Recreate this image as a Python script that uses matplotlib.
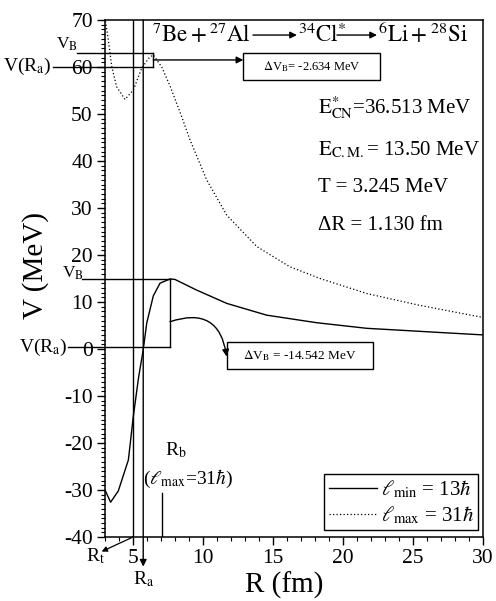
import matplotlib
matplotlib.use("Agg")
import matplotlib.pyplot as plt
from matplotlib.patches import Rectangle
from matplotlib.ticker import MultipleLocator
import numpy as np

plt.rcParams['font.family'] = ['Liberation Serif', 'DejaVu Serif']
plt.rcParams['mathtext.fontset'] = 'stix'
plt.rcParams['axes.unicode_minus'] = False

# potential for l_min = 13 hbar (solid)
r_min = [3.0, 3.4, 3.95, 4.67, 5.02, 5.4, 5.73, 5.98, 6.45, 6.93, 7.64, 8.0,
         9.5, 11.7, 14.55, 18.1, 21.7, 24.07, 27.0, 30.0]
v_min = [-30.0, -32.6, -30.2, -23.6, -14.4, -6.0, -0.2, 5.5, 11.3, 14.0, 14.9, 14.8,
         12.6, 9.7, 7.2, 5.6, 4.4, 4.0, 3.5, 3.0]

# potential for l_max = 31 hbar (dotted)
r_max = [3.0, 3.24, 3.48, 3.83, 4.43, 5.02, 5.62, 6.1, 6.45, 7.05, 7.64, 8.47,
         9.07, 10.26, 11.69, 13.84, 16.2, 18.36, 21.7, 25.3, 30.0]
v_max = [70.5, 65.7, 60.1, 55.8, 53.1, 55.1, 59.7, 61.8, 62.6, 60.0, 56.0, 49.5,
         44.5, 36.0, 28.5, 21.8, 17.5, 15.0, 11.8, 9.4, 6.7]

# characteristic radii and barrier levels
R_t, R_a, R_b = 5.0, 5.73, 7.09
vb_min, vra_min, rb_min = 14.9, 0.4, 7.64
vb_max, vra_max, rb_max = 62.9, 60.07, 6.45

xticks = [5, 10, 15, 20, 25, 30]
yticks = [-40, -30, -20, -10, 0, 10, 20, 30, 40, 50, 60, 70]

info_lines = [r"$\mathrm{E}^{*}_{\mathrm{CN}}$=36.513 MeV",
              r"$\mathrm{E}_{\mathrm{C.M.}}$= 13.50 MeV",
              "T = 3.245 MeV",
              "\u0394R = 1.130 fm"]
info_y = [50.2, 41.3, 33.4, 25.3]

fig = plt.figure(figsize=(4.96, 6.01), dpi=100)
ax = fig.add_axes([105/496, 1-537/601, 378/496, 517/601])

ax.plot(r_min, v_min, '-', color='black', lw=1.0, label=r'$\ell_{\rm min}$ = 13$\hbar$')
ax.plot(r_max, v_max, color='black', lw=0.9, linestyle=(0, (1, 1.8)),
        label=r'$\ell_{\rm max}$ = 31$\hbar$')

ax.set_xlim(3, 30)
ax.set_ylim(-40, 70)
ax.set_xticks(xticks)
ax.set_yticks(yticks)
ax.xaxis.set_minor_locator(MultipleLocator(1))
ax.yaxis.set_minor_locator(MultipleLocator(1))
ax.tick_params(which='major', direction='out', length=5.8, width=1, labelsize=15.5, pad=3)
ax.tick_params(which='minor', direction='out', length=3.2, width=0.8)
ax.tick_params(top=False, right=False)
for s in ax.spines.values():
    s.set_linewidth(1.1)

fig.text(36/496, 1-265/601, "V (MeV)", rotation=90, fontsize=21, ha='center', va='center')
fig.text(284/496, 1-585/601, "R (fm)", fontsize=21, ha='center', va='center')

# vertical lines at R_t and R_a
ax.plot([R_t, R_t], [70, -40], color='black', lw=1.0)
ax.annotate('', xy=(R_a, -46.3), xytext=(R_a, 70), annotation_clip=False,
            arrowprops=dict(arrowstyle='-|>', color='black', lw=1.0,
                            mutation_scale=10, shrinkA=0, shrinkB=0))
ax.annotate('', xy=(2.76, -43.1), xytext=(R_t, -40), annotation_clip=False,
            arrowprops=dict(arrowstyle='-|>', color='black', lw=0.9,
                            mutation_scale=8, shrinkA=0, shrinkB=0))
ax.text(R_a, -46.8, r"R$_{\rm a}$", fontsize=14, ha='center', va='top', clip_on=False)
ax.text(2.3, -44.0, r"R$_{\rm t}$", fontsize=14, ha='center', va='center', clip_on=False)

# R_b marker
ax.plot([R_b, R_b], [-30.6, -40], color='black', lw=1.0)
ax.text(8.07, -21.5, r"R$_{\rm b}$", fontsize=14, ha='center', va='center')
ax.text(8.93, -27.6, r"($\ell_{\rm max}$=31$\hbar$)", fontsize=14, ha='center', va='center')

# barrier boxes
box_kw = dict(color='black', lw=1.0, clip_on=False)
ax.plot([1.33, rb_min], [vb_min, vb_min], **box_kw)
ax.plot([0.36, rb_min], [vra_min, vra_min], **box_kw)
ax.plot([rb_min, rb_min], [vra_min, vb_min], **box_kw)
ax.plot([0.98, rb_max], [vb_max, vb_max], **box_kw)
ax.plot([-0.71, rb_max], [vra_max, vra_max], **box_kw)
ax.plot([rb_max, rb_max], [vra_max, vb_max], **box_kw)

ax.text(1.5, 16.1, r"V$_{\rm B}$", fontsize=12.5, ha='right', va='center', clip_on=False)
ax.text(0.3, vra_min, r"V(R$_{\rm a}$)", fontsize=14, ha='right', va='center', clip_on=False)
ax.text(1.05, 64.9, r"V$_{\rm B}$", fontsize=12.5, ha='right', va='center', clip_on=False)
ax.text(-0.8, vra_max, r"V(R$_{\rm a}$)", fontsize=14, ha='right', va='center', clip_on=False)

# delta V_B boxes
ax.add_patch(Rectangle((12.88, 57.2), 22.64 - 12.88, 63.05 - 57.2, fill=False, lw=1.0, ec='black'))
ax.text(17.76, 60.1, r"$\Delta$V$_{\rm B}$= -2.634 MeV", fontsize=9, ha='center', va='center')
ax.annotate('', xy=(12.88, 61.5), xytext=(rb_max, 61.5),
            arrowprops=dict(arrowstyle='-|>', color='black', lw=1.0,
                            mutation_scale=10, shrinkA=0, shrinkB=0))

ax.add_patch(Rectangle((11.73, -4.3), 22.12 - 11.73, 1.56 + 4.3, fill=False, lw=1.0, ec='black'))
ax.text(16.93, -1.4, r"$\Delta$V$_{\rm B}$ = -14.542 MeV", fontsize=9.5, ha='center', va='center')
ax.annotate('', xy=(11.69, -1.6), xytext=(rb_min, 5.8),
            arrowprops=dict(arrowstyle='-|>', color='black', lw=1.0, mutation_scale=10,
                            shrinkA=0, shrinkB=0, connectionstyle='arc3,rad=-0.6'))

# reaction title
ax.text(6.36, 65.3, r"${}^{7}\mathrm{Be} + {}^{27}\mathrm{Al}$", fontsize=16.5, va='baseline')
ax.text(16.79, 65.3, r"${}^{34}\mathrm{Cl}^{*}$", fontsize=16.5, va='baseline')
ax.text(22.5, 65.3, r"${}^{6}\mathrm{Li} + {}^{28}\mathrm{Si}$", fontsize=16.5, va='baseline')
for x0, x1 in [(13.57, 16.71), (19.57, 22.43)]:
    ax.annotate('', xy=(x1, 66.8), xytext=(x0, 66.8),
                arrowprops=dict(arrowstyle='-|>', color='black', lw=1.0,
                                mutation_scale=10, shrinkA=0, shrinkB=0))

for txt, y in zip(info_lines, info_y):
    ax.text(18.2, y, txt, fontsize=15, va='baseline')

leg = ax.legend(loc='lower right', bbox_to_anchor=(0.987, 0.0135), borderaxespad=0,
                fontsize=15, handlelength=2.3, fancybox=False, framealpha=1,
                edgecolor='black', borderpad=0.2, labelspacing=0.2, handletextpad=0.2)
leg.get_frame().set_linewidth(1.0)

fig.savefig("out.png", dpi=100)
